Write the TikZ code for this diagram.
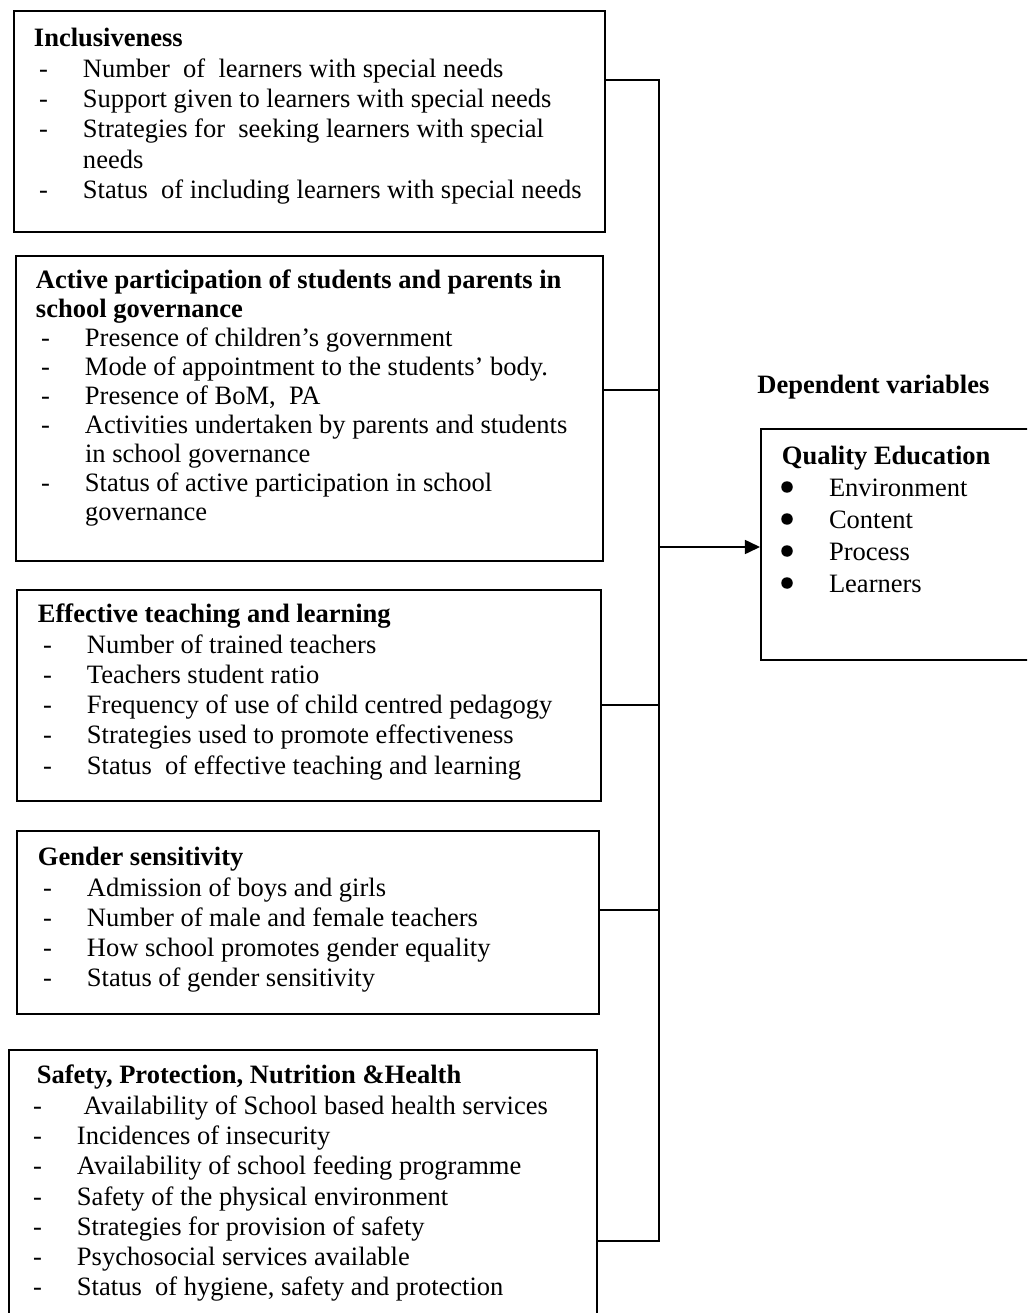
\documentclass[tikz,border=0pt]{standalone}
\usepackage{fontspec}
\setmainfont{Liberation Serif}
\usetikzlibrary{positioning,arrows.meta}

% list lines inside the variable boxes
\newcommand{\dashitem}[2][22.2pt]{\makebox[#1][l]{\hspace*{2.3pt}-}#2}
\newcommand{\contline}[1]{\hspace*{22.2pt}#1}
\newcommand{\bulitem}[1]{\hspace*{21.3pt}#1}
% width, height, top gap, left gap, text
\newcommand{\varblock}[5]{\parbox[c][#2][t]{#1}{\leftskip=#4\relax\vspace*{#3}\strut #5}}

\tikzset{
  varbox/.style={draw,line width=0.85pt,anchor=north west,inner sep=0pt,
    font=\fontsize{12}{13.7}\selectfont},
  link/.style={line width=0.85pt}
}

\begin{document}
\begin{tikzpicture}[x=0.4525pt,y=-0.4525pt,>={Triangle[length=6.8pt,width=6.3pt]}]
\useasboundingbox (0,0) rectangle (1027,1313);
\clip (0,0) rectangle (1027,1313);

% independent variables
\node[varbox] (incl) at (13,10.5) {\varblock{267.4pt}{99.8pt}{6.5pt}{9.05pt}{%
  \textbf{Inclusiveness}\\
  \dashitem{Number~ of~ learners with special needs}\\
  \dashitem{Support given to learners with special needs}\\
  \dashitem{Strategies for~ seeking learners with special}\\
  \contline{needs}\\
  \dashitem{Status~ of including learners with special needs}}};

\node[varbox,font=\fontsize{12}{13.1}\selectfont] (part) at (15,255) {\varblock{265.6pt}{138pt}{5.7pt}{9.05pt}{%
  \textbf{Active participation of students and parents in}\\
  \textbf{school governance}\\
  \dashitem{Presence of children’s government}\\
  \dashitem{Mode of appointment to the students’ body.}\\
  \dashitem{Presence of BoM,~ PA}\\
  \dashitem{Activities undertaken by parents and students}\\
  \contline{in school governance}\\
  \dashitem{Status of active participation in school}\\
  \contline{governance}}};

\node[varbox] (teach) at (16,589) {\varblock{264.3pt}{95.5pt}{5.3pt}{9.5pt}{%
  \textbf{Effective teaching and learning}\\
  \dashitem{Number of trained teachers}\\
  \dashitem{Teachers student ratio}\\
  \dashitem{Frequency of use of child centred pedagogy}\\
  \dashitem{Strategies used to promote effectiveness}\\
  \dashitem{Status~ of effective teaching and learning}}};

\node[varbox] (gend) at (16,830) {\varblock{263.4pt}{82.8pt}{6.2pt}{9.5pt}{%
  \textbf{Gender sensitivity}\\
  \dashitem{Admission of boys and girls}\\
  \dashitem{Number of male and female teachers}\\
  \dashitem{How school promotes gender equality}\\
  \dashitem{Status of gender sensitivity}}};

\node[varbox] (safe) at (8,1049) {\varblock{266.1pt}{131pt}{5.8pt}{8.6pt}{%
  \hspace*{4pt}\textbf{Safety, Protection, Nutrition \&Health}\\
  \dashitem{\ Availability of School based health services}\\
  \dashitem{Incidences of insecurity}\\
  \dashitem{Availability of school feeding programme}\\
  \dashitem{Safety of the physical environment}\\
  \dashitem{Strategies for provision of safety}\\
  \dashitem{Psychosocial services available}\\
  \dashitem{Status~ of hygiene, safety and protection}}};

% dependent variable
\node[varbox,font=\fontsize{12}{14.4}\selectfont] (qual) at (760,428) {\varblock{126.7pt}{104.5pt}{6.2pt}{9.5pt}{%
  \textbf{Quality Education}\\
  \bulitem{Environment}\\
  \bulitem{Content}\\
  \bulitem{Process}\\
  \bulitem{Learners}}};
\foreach \y in {487,519,551,583}
  \fill (787,\y) circle (2.6pt);
\node[above=15.8pt of qual.north west,anchor=base west,xshift=-1.4pt,inner sep=0pt,
  font=\fontsize{12}{13.7}\selectfont\bfseries] (depvar) {Dependent variables};

% bus lines
\coordinate (j1) at (659,80);
\coordinate (j2) at (659,390);
\coordinate (jq) at (659,547);
\coordinate (j3) at (659,705);
\coordinate (j4) at (659,910);
\coordinate (j5) at (659,1241);

\draw[link] (incl.east |- j1) -- (j1) -- (j5) -- (safe.east |- j5);
\draw[link] (part.east |- j2) -- (j2);
\draw[link] (teach.east |- j3) -- (j3);
\draw[link] (gend.east |- j4) -- (j4);
\draw[link,->] (jq) -- (qual.west |- jq);
\end{tikzpicture}
\end{document}
